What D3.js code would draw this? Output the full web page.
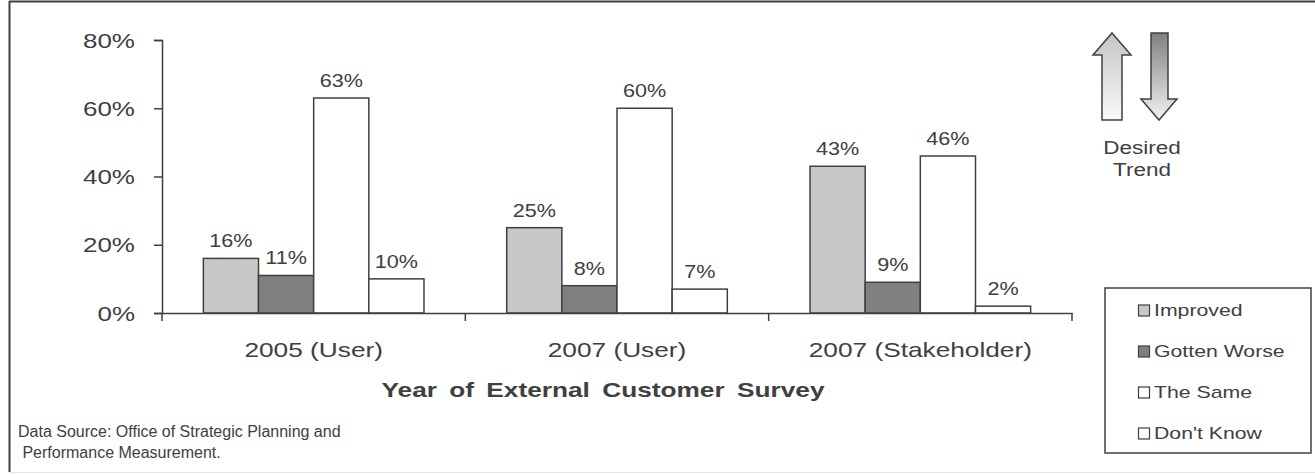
<!DOCTYPE html>
<html>
<head>
<meta charset="utf-8">
<script src="https://cdn.jsdelivr.net/npm/d3@7"></script>
<style>
  body { margin: 0; background: #fff; }
  text { font-family: "Liberation Sans", Arial, sans-serif; fill: #404040; }
</style>
</head>
<body>
<div id="chart"></div>
<script>
var categories = ["2005 (User)", "2007 (User)", "2007 (Stakeholder)"];
var seriesNames = ["Improved", "Gotten Worse", "The Same", "Don't Know"];
var improved = [16, 25, 43];
var gottenWorse = [11, 8, 9];
var theSame = [63, 60, 46];
var dontKnow = [10, 7, 2];
var yTicks = [0, 20, 40, 60, 80];
var colors = ["#c8c8c8", "#808080", "#ffffff", "#ffffff"];

var width = 1315, height = 475;
var stretch = 1.25; // text in the original is drawn wider than normal
var svg = d3.select("#chart").append("svg")
  .attr("width", width)
  .attr("height", height);

// put a text at (px,py) and widen it horizontally
function place(sel, px, py, sx) {
  sel.attr("transform", function(d, i) {
    var X = typeof px === "function" ? px(d, i) : px;
    var Y = typeof py === "function" ? py(d, i) : py;
    return "translate(" + X + "," + Y + ") scale(" + (sx || stretch) + ",1)";
  });
  return sel;
}

// outer frame
svg.append("line").attr("x1", 9.5).attr("y1", 1).attr("x2", 9.5).attr("y2", 472)
  .attr("stroke", "#404040").attr("stroke-width", 2);
svg.append("line").attr("x1", 9).attr("y1", 1.5).attr("x2", 1315).attr("y2", 1.5)
  .attr("stroke", "#404040").attr("stroke-width", 2);
svg.append("line").attr("x1", 10).attr("y1", 472.5).attr("x2", 1315).attr("y2", 472.5)
  .attr("stroke", "#e4e4e4").attr("stroke-width", 1);

var x = d3.scaleBand().domain(categories).range([162, 1072]);
var xSub = d3.scaleBand().domain(seriesNames).range([0, x.bandwidth()]).paddingOuter(0.75);
var y = d3.scaleLinear().domain([0, 80]).range([313, 40]);

var table = seriesNames.map(function(s, i) {
  var vals = [improved, gottenWorse, theSame, dontKnow][i];
  return { name: s, color: colors[i], values: vals };
});

// bars
table.forEach(function(s) {
  var g = svg.append("g");
  g.selectAll("rect")
    .data(s.values)
    .enter()
    .append("rect")
      .attr("x", function(d, j) { return x(categories[j]) + xSub(s.name); })
      .attr("y", function(d) { return y(d); })
      .attr("width", xSub.bandwidth())
      .attr("height", function(d) { return y(0) - y(d); })
      .attr("fill", s.color)
      .attr("stroke", "#404040")
      .attr("stroke-width", 1.5);
  var t = g.selectAll("text")
    .data(s.values)
    .enter()
    .append("text")
      .attr("text-anchor", "middle")
      .style("font-size", "18px")
      .text(function(d) { return d + "%"; });
  place(t,
    function(d, j) { return x(categories[j]) + xSub(s.name) + xSub.bandwidth() / 2; },
    function(d) { return y(d) - 11; }, 1.2);
});

// y axis
var yAxis = svg.append("g")
  .attr("transform", "translate(162,0)")
  .call(d3.axisLeft(y).tickValues(yTicks).tickSize(8).tickPadding(19)
    .tickFormat(function(d) { return d + "%"; }));
yAxis.selectAll("text")
  .style("font-size", "20px").attr("fill", "#404040")
  .attr("x", null).attr("dy", "0.35em")
  .attr("transform", "translate(-27,0) scale(1.3,1)");

// x axis
var xAxis = svg.append("g")
  .attr("transform", "translate(0,313)")
  .call(d3.axisBottom(x).tickValues([]).tickSize(0));
var xTickPos = categories.map(function(c) { return x(c); }).concat([x(categories[2]) + x.bandwidth()]);
xAxis.selectAll(".cattick")
  .data(xTickPos)
  .enter()
  .append("line")
    .attr("x1", function(d) { return d; })
    .attr("x2", function(d) { return d; })
    .attr("y1", 0).attr("y2", 8)
    .attr("stroke", "#404040").attr("stroke-width", 1.5);
svg.selectAll(".domain").attr("stroke", "#404040").attr("stroke-width", 1.5);
svg.selectAll(".tick line").attr("stroke", "#404040").attr("stroke-width", 1.5);

var catText = svg.append("g").selectAll("text")
  .data(categories)
  .enter()
  .append("text")
    .attr("text-anchor", "middle")
    .style("font-size", "21px")
    .text(function(d) { return d; });
place(catText, function(d) { return x(d) + x.bandwidth() / 2; }, 357);

place(svg.append("text")
  .attr("text-anchor", "middle")
  .style("font-size", "21px")
  .style("font-weight", "bold")
  .style("word-spacing", "4px")
  .text("Year of External Customer Survey"), 603, 397);

place(svg.append("text").style("font-size", "16px")
  .text("Data Source: Office of Strategic Planning and"), 18, 437, 1.0);
place(svg.append("text").style("font-size", "16px")
  .attr("xml:space", "preserve")
  .text(" Performance Measurement."), 18, 458, 1.0);

// desired trend arrows
var defs = svg.append("defs");
var gUp = defs.append("linearGradient").attr("id", "gUp").attr("x1", 0).attr("y1", 0).attr("x2", 0).attr("y2", 1);
gUp.append("stop").attr("offset", "0%").attr("stop-color", "#c4c4c4");
gUp.append("stop").attr("offset", "100%").attr("stop-color", "#fafafa");
var gDown = defs.append("linearGradient").attr("id", "gDown").attr("x1", 0).attr("y1", 0).attr("x2", 0).attr("y2", 1);
gDown.append("stop").attr("offset", "0%").attr("stop-color", "#808080");
gDown.append("stop").attr("offset", "100%").attr("stop-color", "#f2f2f2");

svg.append("path")
  .attr("d", "M1112,33 L1131,55 L1122,55 L1122,120 L1102,120 L1102,55 L1093,55 Z")
  .attr("fill", "url(#gUp)").attr("stroke", "#404040").attr("stroke-width", 1.5);
svg.append("path")
  .attr("d", "M1151,33 L1168,33 L1168,99 L1177,99 L1159,120 L1141,99 L1151,99 Z")
  .attr("fill", "url(#gDown)").attr("stroke", "#404040").attr("stroke-width", 1.5);
place(svg.append("text").attr("text-anchor", "middle")
  .style("font-size", "18px").text("Desired"), 1142, 154);
place(svg.append("text").attr("text-anchor", "middle")
  .style("font-size", "18px").text("Trend"), 1142, 176);

// legend
svg.append("rect")
  .attr("x", 1105).attr("y", 288).attr("width", 206).attr("height", 165)
  .attr("fill", "#fff").attr("stroke", "#404040").attr("stroke-width", 1.5);
var leg = svg.append("g").selectAll("g")
  .data(table)
  .enter()
  .append("g")
    .attr("transform", function(d, i) { return "translate(1138," + (316 + i * 41) + ")"; });
leg.append("rect")
  .attr("x", 0.5).attr("y", -11).attr("width", 11).attr("height", 11)
  .attr("fill", function(d) { return d.color; })
  .attr("stroke", "#404040").attr("stroke-width", 1.2);
place(leg.append("text")
  .style("font-size", "17px")
  .text(function(d) { return d.name; }), 16, 0);
</script>
</body>
</html>
